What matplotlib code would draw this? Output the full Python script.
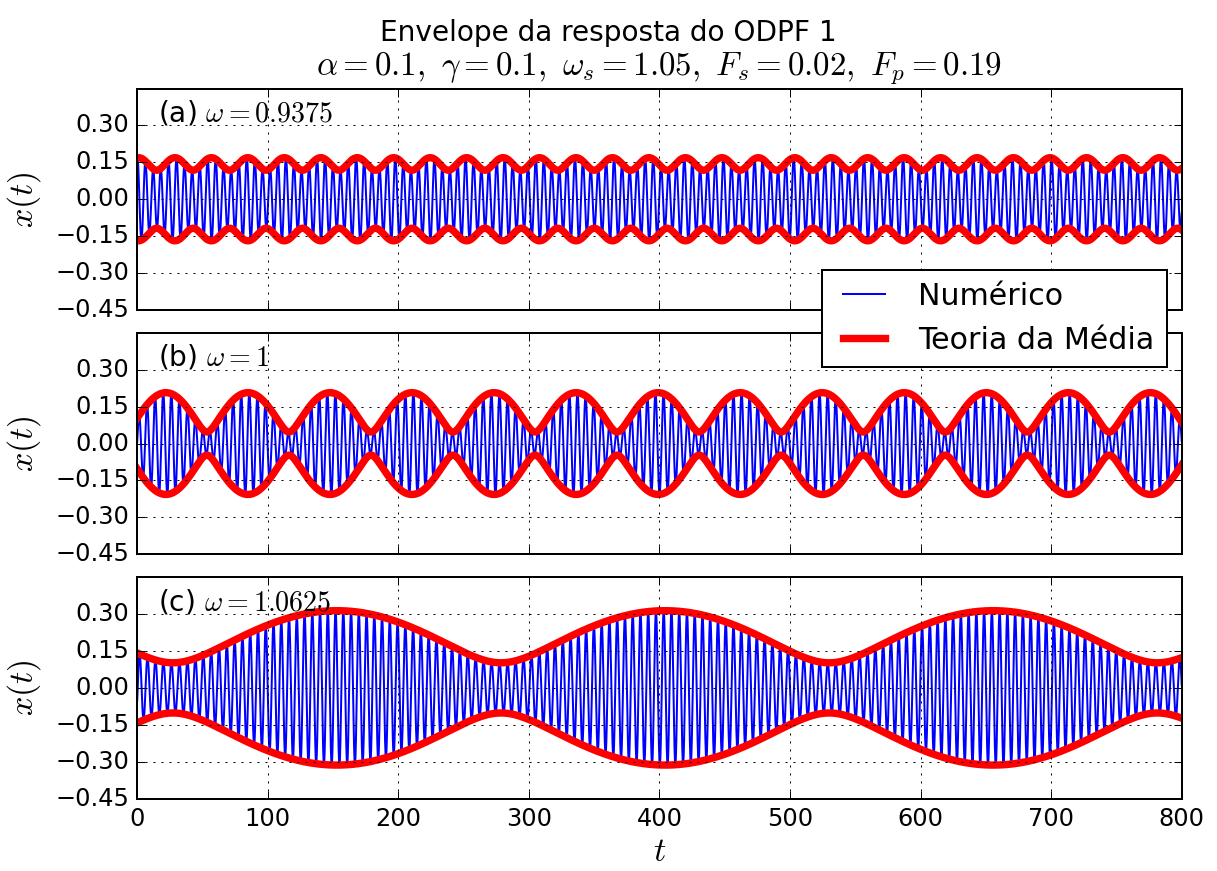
"""
Envelope da resposta do ODPF 1 - three panels
"""

import matplotlib
matplotlib.use("Agg")
import matplotlib.pyplot as plt
import numpy as np

plt.style.use("classic")

# values
omega_s = 1.05
omegas = [0.9375, 1.0, 1.0625]
omega_labels = ["0.9375", "1", "1.0625"]
panel_tags = ["(a)", "(b)", "(c)"]
env_max = [0.169, 0.207, 0.314]      # largest envelope amplitude
env_min = [0.118, 0.047, 0.102]      # smallest envelope amplitude
env_peak_t = [1.0, 22.0, 153.0]      # time of one envelope maximum
y_ticks = [-0.45, -0.30, -0.15, 0.00, 0.15, 0.30]
x_ticks = [0, 100, 200, 300, 400, 500, 600, 700, 800]
t_end = 800

DPI = 144
fig, axes = plt.subplots(3, 1, sharex=True, figsize=(1217 / DPI, 871 / DPI), dpi=DPI,
                         facecolor="white")
fig.subplots_adjust(left=0.1127, right=0.971, top=0.8983, bottom=0.0832, hspace=0.104)

t = np.linspace(0, t_end, 40001)

for i, ax in enumerate(axes):
    w = omegas[i]
    a = (env_max[i] + env_min[i]) / 2
    b = (env_max[i] - env_min[i]) / 2
    beat = 2 * (omega_s - w)
    x = a * np.cos(omega_s * t - beat * env_peak_t[i]) + b * np.cos((2 * w - omega_s) * t)
    env = np.sqrt(a ** 2 + b ** 2 + 2 * a * b * np.cos(beat * (t - env_peak_t[i])))

    l1, = ax.plot(t, x, color="b", lw=1.0, label="Numérico")
    l2, = ax.plot(t, env, color="r", lw=3.7, label="Teoria da Média")
    ax.plot(t, -env, color="r", lw=3.7)

    ax.set_xlim(0, t_end)
    ax.set_ylim(-0.45, 0.45)
    ax.set_yticks(y_ticks)
    ax.set_xticks(x_ticks)
    ax.grid(True)
    ax.set_ylabel(r"$x(t)$", fontsize=17, labelpad=6)
    ax.text(0.02, 0.955, panel_tags[i] + r" $\omega=" + omega_labels[i] + "$",
            transform=ax.transAxes, fontsize=14, va="top", ha="left")

axes[-1].set_xlabel(r"$t$", fontsize=17, labelpad=2)

fig.suptitle("Envelope da resposta do ODPF 1", fontsize=14, y=0.962, va="center")
axes[0].set_title(r"$\alpha=0.1,\ \gamma=0.1,\ \omega_s=1.05,\ F_s=0.02,\ F_p=0.19$",
                  fontsize=16.5, pad=7)

fig.legend([l1, l2], ["Numérico", "Teoria da Média"], loc="upper right",
           bbox_to_anchor=(0.9856, 0.181), bbox_transform=axes[0].transAxes,
           borderaxespad=0, fontsize=15)

fig.savefig("out.png", dpi=DPI, facecolor="white")
plt.close(fig)
